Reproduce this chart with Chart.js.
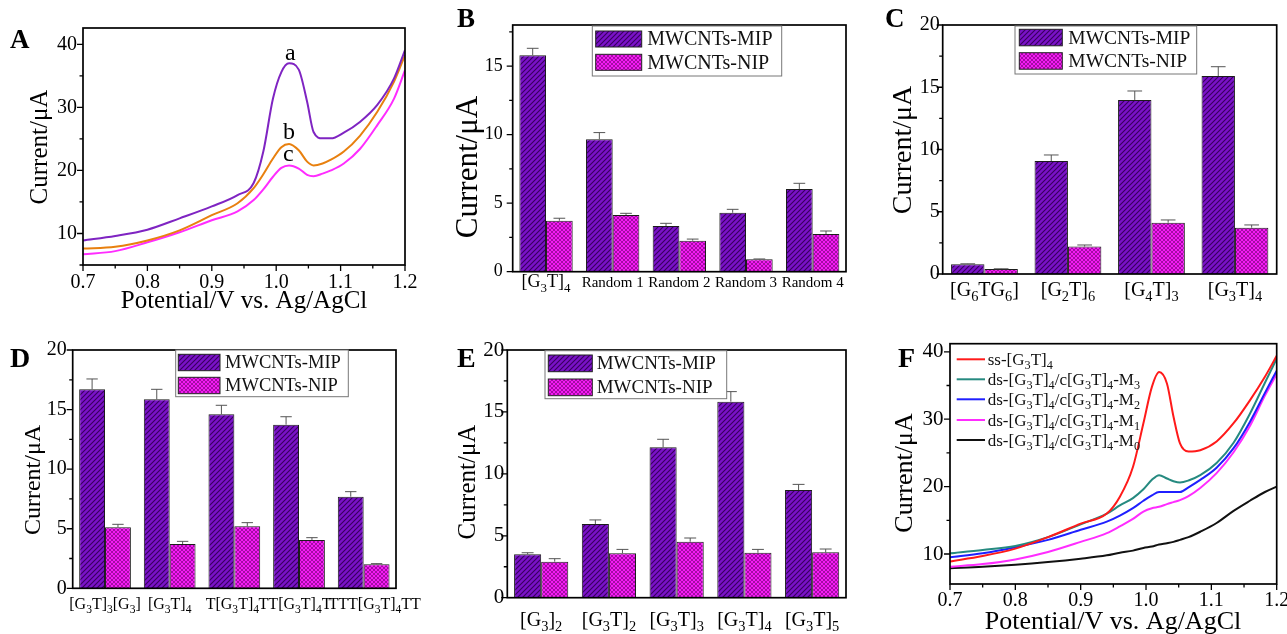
<!DOCTYPE html>
<html>
<head>
<meta charset="utf-8">
<script src="https://cdn.jsdelivr.net/npm/chart.js@4.4.1/dist/chart.umd.min.js"></script>
<style>
  html, body { margin: 0; padding: 0; background: #fff; }
  #stage { position: relative; width: 1287px; height: 634px; overflow: hidden; }
  #stage canvas { position: absolute; left: 0; top: 0; }
</style>
</head>
<body>
<div id="stage">
  <canvas id="chartA" width="1287" height="634"></canvas>
  <canvas id="chartB" width="1287" height="634"></canvas>
  <canvas id="chartC" width="1287" height="634"></canvas>
  <canvas id="chartD" width="1287" height="634"></canvas>
  <canvas id="chartE" width="1287" height="634"></canvas>
  <canvas id="chartF" width="1287" height="634"></canvas>
</div>
<script>
// ---- data ----

// A: DPV curves a, b, c
const potentialA = [0.70, 0.75, 0.80, 0.85, 0.90, 0.94, 0.965, 0.98, 0.995, 1.008, 1.02, 1.035, 1.048, 1.058, 1.072, 1.085, 1.105, 1.13, 1.157, 1.183, 1.20];
const curveA_a = [8.9, 9.6, 10.6, 12.4, 14.3, 16.1, 18.0, 23.0, 31.4, 35.6, 37.0, 36.0, 30.9, 26.1, 25.1, 25.1, 26.0, 27.7, 30.4, 34.6, 39.1];
const curveA_b = [7.6, 7.9, 8.9, 10.5, 12.9, 14.8, 17.2, 19.4, 21.9, 23.7, 24.2, 23.2, 21.4, 20.8, 21.1, 21.7, 23.0, 25.5, 29.3, 34.1, 38.3];
const curveA_c = [6.7, 7.2, 8.6, 10.2, 12.1, 13.5, 15.3, 17.0, 19.0, 20.4, 20.8, 20.3, 19.3, 19.1, 19.5, 20.0, 21.1, 23.4, 27.2, 31.4, 35.9];
const tagsA = ['a', 'b', 'c'];
const tagPosA = [[1.022, 38.6], [1.020, 26.0], [1.019, 22.5]];

// B
const seqB = ['[G₃T]₄', 'Random 1', 'Random 2', 'Random 3', 'Random 4'];
const mipB = [15.8, 9.66, 3.33, 4.3, 6.03];
const mipErrB = [0.5, 0.49, 0.2, 0.25, 0.42];
const nipB = [3.72, 4.14, 2.26, 0.9, 2.75];
const nipErrB = [0.18, 0.12, 0.12, 0.03, 0.22];

// C
const seqC = ['[G₆TG₆]', '[G₂T]₆', '[G₄T]₃', '[G₃T]₄'];
const mipC = [0.79, 9.08, 13.98, 15.9];
const mipErrC = [0.03, 0.48, 0.72, 0.75];
const nipC = [0.4, 2.2, 4.12, 3.72];
const nipErrC = [0.02, 0.13, 0.22, 0.22];

// D
const seqD = ['[G₃T]₃[G₃]', '[G₃T]₄', 'T[G₃T]₄', 'TT[G₃T]₄T', 'TTT[G₃T]₄TT'];
const mipD = [16.7, 15.86, 14.6, 13.73, 7.69];
const mipErrD = [0.87, 0.84, 0.76, 0.67, 0.42];
const nipD = [5.12, 3.72, 5.2, 4.06, 2.01];
const nipErrD = [0.25, 0.22, 0.31, 0.19, 0.06];

// E
const seqE = ['[G₃]₂', '[G₃T]₂', '[G₃T]₃', '[G₃T]₄', '[G₃T]₅'];
const mipE = [3.5, 5.95, 12.14, 15.83, 8.69];
const mipErrE = [0.13, 0.33, 0.65, 0.81, 0.46];
const nipE = [2.91, 3.58, 4.52, 3.63, 3.66];
const nipErrE = [0.24, 0.32, 0.3, 0.27, 0.27];

// F: ss / ds curves
const potentialF = [0.70, 0.75, 0.80, 0.85, 0.90, 0.94, 0.96, 0.98, 0.996, 1.009, 1.02, 1.032, 1.042, 1.052, 1.065, 1.083, 1.108, 1.134, 1.159, 1.182, 1.20];
const ssF = [8.9, 9.7, 10.8, 12.5, 14.5, 16.0, 18.5, 22.9, 29.4, 34.8, 37.0, 35.3, 30.4, 26.4, 25.2, 25.4, 26.7, 29.4, 32.8, 36.3, 39.4];
const m3F = [10.1, 10.6, 11.2, 12.5, 14.4, 16.0, 17.2, 18.3, 19.6, 21.0, 21.7, 21.2, 20.8, 20.6, 20.9, 21.7, 23.5, 26.5, 30.8, 35.4, 39.0];
const m2F = [9.5, 10.1, 11.0, 12.1, 13.6, 14.8, 15.7, 16.8, 17.9, 18.7, 19.2, 19.2, 19.2, 19.2, 19.9, 21.0, 22.8, 25.7, 29.6, 33.9, 37.2];
const m1F = [8.1, 8.5, 9.2, 10.3, 11.8, 13.1, 14.1, 15.2, 16.3, 16.8, 17.0, 17.4, 17.7, 18.0, 18.6, 19.8, 22.0, 25.1, 29.0, 33.5, 36.7];
const m0F = [7.9, 8.1, 8.4, 8.8, 9.3, 9.8, 10.2, 10.5, 10.9, 11.1, 11.4, 11.6, 11.8, 12.1, 12.5, 13.3, 14.6, 16.4, 17.9, 19.2, 20.0];
const namesF = ['ss-[G₃T]₄', 'ds-[G₃T]₄/c[G₃T]₄-M₃', 'ds-[G₃T]₄/c[G₃T]₄-M₂', 'ds-[G₃T]₄/c[G₃T]₄-M₁', 'ds-[G₃T]₄/c[G₃T]₄-M₀'];

const yTitle = 'Current/μA';
const xTitle = 'Potential/V vs. Ag/AgCl';
const seriesNames = ['MWCNTs-MIP', 'MWCNTs-NIP'];

// ---- helpers ----
const SERIF = '"Liberation Serif", "Times New Roman", serif';
const PAGE_W = 1287, PAGE_H = 634, W_AXIS = 40, H_AXIS = 30;
const SUBS = '₀₁₂₃₄₅₆₇₈₉';
const panels = {};

function padFor(a) {
  return { left: a.l - W_AXIS, top: a.t, right: PAGE_W - a.r, bottom: PAGE_H - a.b - H_AXIS };
}
const fixY = s => { s.width = W_AXIS; s.paddingTop = 0; s.paddingBottom = 0; s.paddingLeft = 0; s.paddingRight = 0; };
const fixX = s => { s.height = H_AXIS; s.paddingTop = 0; s.paddingBottom = 0; s.paddingLeft = 0; s.paddingRight = 0; };
const near = (v, step) => Math.abs(v / step - Math.round(v / step)) < 1e-6;

function stripes() {
  const c = document.createElement('canvas');
  c.width = c.height = 5;
  const g = c.getContext('2d');
  g.fillStyle = '#7a12c8';
  g.fillRect(0, 0, 5, 5);
  g.strokeStyle = '#38005e';
  g.lineWidth = 1.1;
  g.beginPath();
  g.moveTo(0, 5); g.lineTo(5, 0);
  g.moveTo(-2.5, 2.5); g.lineTo(2.5, -2.5);
  g.moveTo(2.5, 7.5); g.lineTo(7.5, 2.5);
  g.stroke();
  return g.createPattern(c, 'repeat');
}

function checks() {
  const c = document.createElement('canvas');
  c.width = c.height = 4;
  const g = c.getContext('2d');
  g.fillStyle = '#f41cf4';
  g.fillRect(0, 0, 4, 4);
  g.strokeStyle = 'rgba(110,0,110,0.75)';
  g.lineWidth = 0.8;
  g.beginPath();
  g.moveTo(0, 4); g.lineTo(4, 0);
  g.moveTo(0, 0); g.lineTo(4, 4);
  g.stroke();
  return g.createPattern(c, 'repeat');
}

function drawRich(ctx, text, x, y, size, align) {
  const runs = [];
  for (const ch of text) {
    const k = SUBS.indexOf(ch);
    const sub = k >= 0;
    const t = sub ? String(k) : ch;
    const last = runs[runs.length - 1];
    if (last && last.sub === sub) last.t += t; else runs.push({ t, sub });
  }
  let w = 0;
  runs.forEach(r => {
    ctx.font = (r.sub ? size * 0.72 : size) + 'px ' + SERIF;
    r.w = ctx.measureText(r.t).width;
    w += r.w;
  });
  let cx = align === 'center' ? x - w / 2 : x;
  ctx.textAlign = 'left';
  ctx.textBaseline = 'alphabetic';
  runs.forEach(r => {
    ctx.font = (r.sub ? size * 0.72 : size) + 'px ' + SERIF;
    ctx.fillText(r.t, cx, r.sub ? y + size * 0.24 : y);
    cx += r.w;
  });
}

function tickMarks(ctx, scale, isMajor) {
  ctx.beginPath();
  scale.ticks.forEach(t => {
    if (t.value < scale.min - 1e-9 || t.value > scale.max + 1e-9) return;
    const p = scale.getPixelForValue(t.value);
    const len = isMajor(t.value) ? 6 : 3.5;
    if (scale.isHorizontal()) { ctx.moveTo(p, scale.top); ctx.lineTo(p, scale.top + len); }
    else { ctx.moveTo(scale.right, p); ctx.lineTo(scale.right - len, p); }
  });
  ctx.stroke();
}

const panelDecor = {
  id: 'panelDecor',
  afterDatasetsDraw(chart) {
    const p = panels[chart.canvas.id];
    if (!p || p.kind !== 'bar') return;
    const ctx = chart.ctx, y = chart.scales.y;
    ctx.save();
    ctx.strokeStyle = '#555';
    ctx.lineWidth = 1;
    chart.data.datasets.forEach((ds, di) => {
      chart.getDatasetMeta(di).data.forEach((bar, i) => {
        const top = y.getPixelForValue(ds.data[i] + ds.errors[i]);
        const cap = bar.width * 0.22;
        ctx.beginPath();
        ctx.moveTo(bar.x, bar.y); ctx.lineTo(bar.x, top);
        ctx.moveTo(bar.x - cap, top); ctx.lineTo(bar.x + cap, top);
        ctx.stroke();
      });
    });
    ctx.restore();
  },
  afterDraw(chart) {
    const p = panels[chart.canvas.id];
    if (!p) return;
    const ctx = chart.ctx, a = chart.chartArea;
    const xs = chart.scales.x, ys = chart.scales.y;
    ctx.save();
    ctx.fillStyle = '#000';
    ctx.strokeStyle = '#000';

    // frame and ticks
    ctx.lineWidth = 1.7;
    ctx.strokeRect(a.left, a.top, a.right - a.left, a.bottom - a.top);
    ctx.lineWidth = 1.3;
    tickMarks(ctx, ys, v => near(v, p.yMajor));
    if (p.kind === 'line') tickMarks(ctx, xs, v => near(v, 0.1));

    // axis titles
    ctx.save();
    ctx.translate(p.yTitle[0], p.yTitle[1]);
    ctx.rotate(-Math.PI / 2);
    ctx.font = p.yTitle[2] + 'px ' + SERIF;
    ctx.textAlign = 'center';
    ctx.textBaseline = 'middle';
    ctx.fillText(yTitle, 0, 0);
    ctx.restore();
    if (p.xTitle) {
      ctx.font = p.xTitle[2] + 'px ' + SERIF;
      ctx.textAlign = 'center';
      ctx.textBaseline = 'middle';
      ctx.fillText(xTitle, p.xTitle[0], p.xTitle[1]);
    }

    // panel letter
    ctx.font = 'bold ' + p.letter[3] + 'px ' + SERIF;
    ctx.textAlign = 'left';
    ctx.textBaseline = 'alphabetic';
    ctx.fillText(p.letter[0], p.letter[1], p.letter[2]);

    if (p.kind === 'bar') {
      // category labels with subscripts
      chart.data.labels.forEach((lbl, i) => {
        const size = p.labelSize(lbl);
        const nudge = p.labelNudge ? p.labelNudge[i] : 0;
        drawRich(ctx, lbl, xs.getPixelForValue(i) + nudge, xs.top + p.labelDy, size, 'center');
      });
      // legend box
      const L = p.legend;
      ctx.fillStyle = '#fff';
      ctx.fillRect(L.x, L.y, L.w, L.h);
      ctx.strokeStyle = '#777';
      ctx.lineWidth = 1;
      ctx.strokeRect(L.x, L.y, L.w, L.h);
      chart.data.datasets.forEach((ds, i) => {
        ctx.fillStyle = ds.backgroundColor;
        ctx.fillRect(L.swX, L.rows[i], L.swW, L.swH);
        ctx.strokeStyle = '#222';
        ctx.strokeRect(L.swX, L.rows[i], L.swW, L.swH);
        ctx.fillStyle = '#111';
        ctx.font = L.size + 'px ' + SERIF;
        ctx.textAlign = 'left';
        ctx.textBaseline = 'middle';
        ctx.fillText(ds.label, L.textX, L.rows[i] + L.swH / 2 + 1);
      });
    } else {
      if (p.tags) {
        ctx.font = '24px ' + SERIF;
        ctx.textAlign = 'center';
        ctx.textBaseline = 'middle';
        p.tags.forEach((t, i) => {
          ctx.fillText(t, xs.getPixelForValue(p.tagPos[i][0]), ys.getPixelForValue(p.tagPos[i][1]));
        });
      }
      if (p.legend) {
        const L = p.legend;
        chart.data.datasets.forEach((ds, i) => {
          ctx.strokeStyle = ds.borderColor;
          ctx.lineWidth = 2;
          ctx.beginPath();
          ctx.moveTo(L.x0, L.rows[i]); ctx.lineTo(L.x1, L.rows[i]);
          ctx.stroke();
          ctx.fillStyle = '#111';
          drawRich(ctx, ds.label, L.textX, L.rows[i] + L.size * 0.33, L.size, 'left');
        });
      }
    }
    ctx.restore();
  }
};

function barChart(id, p) {
  p.kind = 'bar';
  panels[id] = p;
  return new Chart(document.getElementById(id), {
    type: 'bar',
    data: {
      labels: p.labels,
      datasets: [
        { label: seriesNames[0], data: p.mip, errors: p.mipErr, backgroundColor: stripes(), borderColor: '#1c1c1c', borderWidth: 1 },
        { label: seriesNames[1], data: p.nip, errors: p.nipErr, backgroundColor: checks(), borderColor: '#1c1c1c', borderWidth: 1 }
      ]
    },
    options: {
      responsive: false,
      animation: false,
      devicePixelRatio: 1,
      layout: { padding: padFor(p.area) },
      datasets: { bar: { categoryPercentage: 0.8, barPercentage: 1 } },
      plugins: { legend: { display: false }, tooltip: { enabled: false } },
      scales: {
        x: {
          grid: { display: false, drawTicks: false },
          border: { display: false },
          ticks: { display: false },
          afterFit: fixX
        },
        y: {
          min: 0, max: p.yMax,
          grid: { display: false, drawTicks: false },
          border: { display: false },
          ticks: {
            stepSize: 2.5, includeBounds: false, padding: p.yPad, color: '#000',
            font: { family: SERIF, size: p.yFont },
            callback: v => near(v, 5) ? v : ''
          },
          afterFit: fixY
        }
      }
    },
    plugins: [panelDecor]
  });
}

function lineChart(id, p) {
  p.kind = 'line';
  p.yMajor = 10;
  panels[id] = p;
  return new Chart(document.getElementById(id), {
    type: 'line',
    data: {
      datasets: p.series.map(s => ({
        label: s.label,
        data: p.x.map((x, i) => ({ x, y: s.y[i] })),
        borderColor: s.color,
        borderWidth: 2,
        pointRadius: 0,
        fill: false,
        cubicInterpolationMode: 'monotone'
      }))
    },
    options: {
      responsive: false,
      animation: false,
      devicePixelRatio: 1,
      layout: { padding: padFor(p.area) },
      plugins: { legend: { display: false }, tooltip: { enabled: false } },
      scales: {
        x: {
          type: 'linear', min: 0.7, max: 1.2,
          grid: { display: false, drawTicks: false },
          border: { display: false },
          ticks: {
            stepSize: 0.05, autoSkip: false, maxRotation: 0, includeBounds: false,
            padding: p.xPad, color: '#000', font: { family: SERIF, size: 20 },
            callback: v => near(v, 0.1) ? v.toFixed(1) : ''
          },
          afterFit: fixX
        },
        y: {
          min: p.yMin, max: p.yMax,
          grid: { display: false, drawTicks: false },
          border: { display: false },
          ticks: {
            stepSize: 5, includeBounds: false, padding: p.yPad, color: '#000',
            font: { family: SERIF, size: p.yFont },
            callback: v => near(v, 10) ? v : ''
          },
          afterFit: fixY
        }
      }
    },
    plugins: [panelDecor]
  });
}

// ---- panels ----
lineChart('chartA', {
  area: { l: 83, t: 28, r: 405, b: 265 },
  x: potentialA,
  series: [
    { label: 'a', y: curveA_a, color: '#7f24c2' },
    { label: 'b', y: curveA_b, color: '#e8800f' },
    { label: 'c', y: curveA_c, color: '#ff2cff' }
  ],
  yMin: 5, yMax: 42.6, yPad: 6, yFont: 20, xPad: 6,
  tags: tagsA, tagPos: tagPosA,
  yTitle: [40, 147, 25], xTitle: [244, 301, 25],
  letter: ['A', 10, 48, 27]
});

barChart('chartB', {
  area: { l: 512.7, t: 25, r: 846, b: 271.7 },
  labels: seqB, mip: mipB, mipErr: mipErrB, nip: nipB, nipErr: nipErrB,
  yMax: 18, yMajor: 5, yPad: 10, yFont: 18,
  labelSize: l => l.startsWith('Random') ? 15 : 18, labelDy: 15.5,
  legend: { x: 592.3, y: 26, w: 189.4, h: 50, swX: 595.7, swW: 46, swH: 16, rows: [31, 54.3], textX: 647.3, size: 20 },
  yTitle: [469, 167, 31],
  letter: ['B', 457, 27, 27]
});

barChart('chartC', {
  area: { l: 942.7, t: 25, r: 1276.7, b: 274 },
  labels: seqC, mip: mipC, mipErr: mipErrC, nip: nipC, nipErr: nipErrC,
  yMax: 20, yMajor: 5, yPad: 3, yFont: 20,
  labelSize: () => 20, labelDy: 22,
  legend: { x: 1015, y: 26, w: 181.7, h: 48, swX: 1019.3, swW: 43, swH: 16.5, rows: [29.3, 52.7], textX: 1068.3, size: 19.5 },
  yTitle: [904, 150, 28],
  letter: ['C', 885, 27, 27]
});

barChart('chartD', {
  area: { l: 72.7, t: 350, r: 396, b: 588.3 },
  labels: seqD, mip: mipD, mipErr: mipErrD, nip: nipD, nipErr: nipErrD,
  yMax: 20, yMajor: 5, yPad: 6, yFont: 20,
  labelSize: () => 16, labelDy: 20.5, labelNudge: [0, 0, -2, -4, 11],
  legend: { x: 175.7, y: 350, w: 172.6, h: 46.7, swX: 178.3, swW: 41.7, swH: 16.4, rows: [354.3, 377.3], textX: 225, size: 18.5 },
  yTitle: [34, 480, 24],
  letter: ['D', 10, 367, 28]
});

barChart('chartE', {
  area: { l: 507.3, t: 350, r: 846, b: 597.7 },
  labels: seqE, mip: mipE, mipErr: mipErrE, nip: nipE, nipErr: nipErrE,
  yMax: 20, yMajor: 5, yPad: 3, yFont: 21,
  labelSize: () => 20, labelDy: 28.5,
  legend: { x: 545, y: 350.7, w: 181.7, h: 48, swX: 548.3, swW: 44, swH: 16.7, rows: [355, 379], textX: 596.7, size: 19 },
  yTitle: [468, 482, 25],
  letter: ['E', 457, 367, 28]
});

lineChart('chartF', {
  area: { l: 950, t: 343.7, r: 1276.7, b: 584 },
  x: potentialF,
  series: [
    { label: namesF[0], y: ssF, color: '#ff1a1a' },
    { label: namesF[1], y: m3F, color: '#268a80' },
    { label: namesF[2], y: m2F, color: '#1f1fff' },
    { label: namesF[3], y: m1F, color: '#ff2cff' },
    { label: namesF[4], y: m0F, color: '#111111' }
  ],
  yMin: 5.55, yMax: 41.2, yPad: 6.5, yFont: 21, xPad: 5,
  legend: { x0: 956.7, x1: 985, textX: 987.7, rows: [359.3, 379.3, 399.3, 420, 440], size: 17 },
  yTitle: [905, 473, 26], xTitle: [1113, 622, 26],
  letter: ['F', 898, 367, 28]
});
</script>
</body>
</html>
